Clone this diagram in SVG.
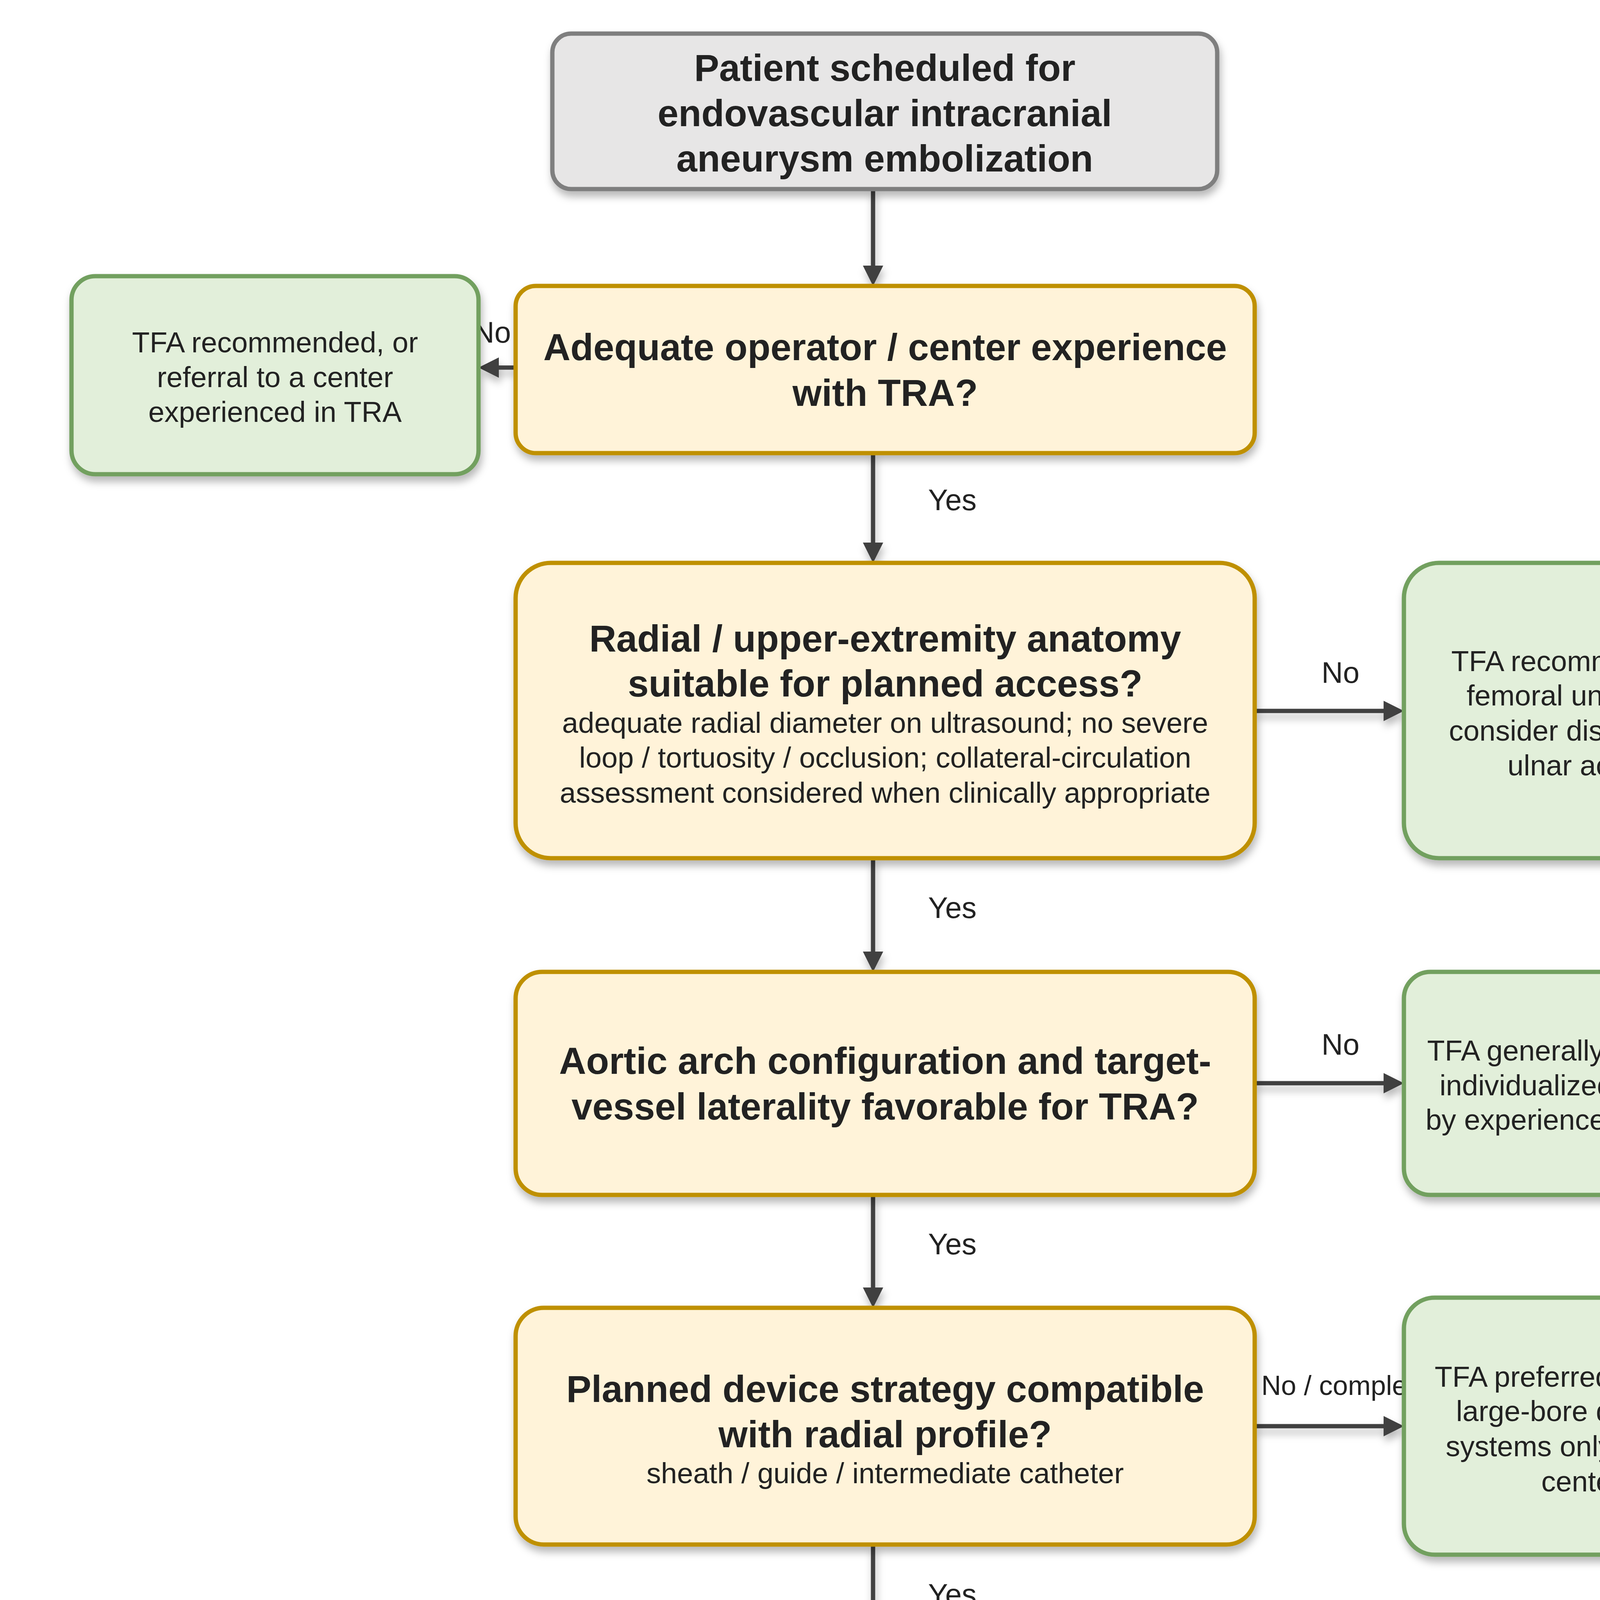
<svg xmlns="http://www.w3.org/2000/svg" width="4724" height="6306" viewBox="0 0 4724 6306">
<defs>
<filter id="sh" x="-10%" y="-10%" width="125%" height="135%">
<feDropShadow dx="4" dy="14" stdDeviation="10" flood-color="#000" flood-opacity="0.28"/>
</filter>
<marker id="ah" markerUnits="userSpaceOnUse" markerWidth="52" markerHeight="52" refX="7" refY="26" orient="auto">
<path d="M0,0 L52,26 L0,52 z" fill="#404040"/>
</marker>
<style>
.dec{fill:#fff3d9;stroke:#bf9000;stroke-width:11}
.tfa{fill:#e2efda;stroke:#72a05f;stroke-width:11}
.tra{fill:#dae3f3;stroke:#2e75b6;stroke-width:11}
.start{fill:#e7e6e6;stroke:#7f7f7f;stroke-width:11}
.b{font-family:"Liberation Sans",Arial,sans-serif;font-weight:bold;font-size:96px;fill:#222;text-anchor:middle}
.t{font-family:"Liberation Sans",Arial,sans-serif;font-size:74px;fill:#222;text-anchor:middle}
.lab{font-family:"Liberation Sans",Arial,sans-serif;font-size:76px;fill:#222}
.lab2{font-family:"Liberation Sans",Arial,sans-serif;font-size:70px;fill:#222}
.leg{font-family:"Liberation Sans",Arial,sans-serif;font-size:82px;fill:#222}
.legb{font-family:"Liberation Sans",Arial,sans-serif;font-size:94px;font-weight:bold;fill:#222}
.c{fill:none;stroke:#404040;stroke-width:11;marker-end:url(#ah)}
</style>
</defs>
<rect width="4724" height="6306" fill="#ffffff"/>

<g id="connectors" filter="url(#sh)">
<path class="c" d="M2235,484 L2235,687"/>
<path class="c" d="M2235,1160 L2235,1396"/>
<path class="c" d="M2235,2197 L2235,2443"/>
<path class="c" d="M2235,3059 L2235,3303"/>
<path class="c" d="M2235,3954 L2235,4200"/>
<path class="c" d="M2235,4964 L2235,5212"/>
<path class="c" d="M1320,941 L1270,941"/>
<path class="c" d="M3212,1820 L3549,1820"/>
<path class="c" d="M3212,2773 L3549,2773"/>
<path class="c" d="M3212,3651 L3549,3651"/>
<path class="c" d="M1320,4605 L1270,4605"/>
</g>

<g id="labels">
<text class="lab" x="1308" y="877" text-anchor="end">No</text>
<text class="lab" x="2376" y="1306">Yes</text>
<text class="lab" x="3383" y="1748">No</text>
<text class="lab" x="2376" y="2350">Yes</text>
<text class="lab" x="3383" y="2700">No</text>
<text class="lab" x="2376" y="3211">Yes</text>
<text class="lab2" x="3229" y="3571">No / complex</text>
<text class="lab" x="2376" y="4108">Yes</text>
<text class="lab" x="1308" y="4500" text-anchor="end">No</text>
<text class="lab" x="2376" y="5120">Yes</text>
</g>

<g id="start">
<rect class="start" x="1414" y="86" width="1702" height="398" rx="48" filter="url(#sh)"/>
<text class="b" x="2265" y="207">Patient scheduled for</text>
<text class="b" x="2265" y="323">endovascular intracranial</text>
<text class="b" x="2265" y="439">aneurysm embolization</text>
</g>

<g id="q1">
<rect class="dec" x="1320" y="732" width="1892" height="428" rx="52" filter="url(#sh)"/>
<text class="b" x="2266" y="922">Adequate operator / center experience</text>
<text class="b" x="2266" y="1039">with TRA?</text>
</g>

<g id="tfa1">
<rect class="tfa" x="183" y="707" width="1042" height="507" rx="61" filter="url(#sh)"/>
<text class="t" x="704" y="902">TFA recommended, or</text>
<text class="t" x="704" y="991">referral to a center</text>
<text class="t" x="704" y="1080">experienced in TRA</text>
</g>

<g id="q2">
<rect class="dec" x="1320" y="1441" width="1892" height="756" rx="90" filter="url(#sh)"/>
<text class="b" x="2266" y="1668">Radial / upper-extremity anatomy</text>
<text class="b" x="2266" y="1783">suitable for planned access?</text>
<text class="t" x="2266" y="1876">adequate radial diameter on ultrasound; no severe</text>
<text class="t" x="2266" y="1965">loop / tortuosity / occlusion; collateral-circulation</text>
<text class="t" x="2266" y="2055">assessment considered when clinically appropriate</text>
</g>

<g id="tfa2">
<rect class="tfa" x="3594" y="1441" width="946" height="756" rx="90" filter="url(#sh)"/>
<text class="t" x="4067" y="1718">TFA recommended; if</text>
<text class="t" x="4067" y="1806">femoral unsuitable,</text>
<text class="t" x="4067" y="1896">consider distal radial /</text>
<text class="t" x="4067" y="1985">ulnar access</text>
</g>

<g id="q3">
<rect class="dec" x="1320" y="2488" width="1892" height="571" rx="68" filter="url(#sh)"/>
<text class="b" x="2266" y="2749">Aortic arch configuration and target-</text>
<text class="b" x="2266" y="2866">vessel laterality favorable for TRA?</text>
</g>

<g id="tfa3">
<rect class="tfa" x="3594" y="2488" width="946" height="571" rx="68" filter="url(#sh)"/>
<text class="t" x="4067" y="2715">TFA generally preferable;</text>
<text class="t" x="4067" y="2804">individualized TRA only</text>
<text class="t" x="4067" y="2892">by experienced operators</text>
</g>

<g id="q4">
<rect class="dec" x="1320" y="3348" width="1892" height="606" rx="72" filter="url(#sh)"/>
<text class="b" x="2266" y="3589">Planned device strategy compatible</text>
<text class="b" x="2266" y="3705">with radial profile?</text>
<text class="t" x="2266" y="3797">sheath / guide / intermediate catheter</text>
</g>

<g id="tfa4">
<rect class="tfa" x="3594" y="3322" width="946" height="658" rx="79" filter="url(#sh)"/>
<text class="t" x="4067" y="3550">TFA preferred; TRA with</text>
<text class="t" x="4067" y="3638">large-bore dedicated</text>
<text class="t" x="4067" y="3728">systems only in expert</text>
<text class="t" x="4067" y="3818">centers</text>
</g>

<g id="q5">
<rect class="dec" x="1320" y="4245" width="1892" height="720" rx="86" filter="url(#sh)"/>
<text class="b" x="2266" y="4553">Clinical factors favoring TRA?</text>
<text class="t" x="2266" y="4646">high bleeding risk, antithrombotic therapy, groin</text>
<text class="t" x="2266" y="4736">disease, early ambulation, or patient preference</text>
</g>

<g id="tfa5">
<rect class="tfa" x="183" y="4245" width="1042" height="720" rx="86" filter="url(#sh)"/>
<text class="t" x="704" y="4500">Either access reasonable;</text>
<text class="t" x="704" y="4590">individualize by patient,</text>
<text class="t" x="704" y="4679">aneurysm, device and</text>
<text class="t" x="704" y="4770">operator factors</text>
</g>

<g id="end">
<rect class="tra" x="1414" y="5257" width="1702" height="516" rx="62" filter="url(#sh)"/>
<text class="b" x="2265" y="5438">TRA preferred: favorable anatomy,</text>
<text class="b" x="2265" y="5554">compatible device profile,</text>
<text class="b" x="2265" y="5670">experienced operator</text>
</g>

<g id="legend">
<text class="legb" x="409" y="6126">Legend:</text>
<rect class="dec" x="910" y="6009" width="190" height="169" rx="22" filter="url(#sh)"/>
<text class="leg" x="1202" y="6114">Decision / individualized consideration</text>
<rect class="tra" x="2753" y="6009" width="193" height="169" rx="22" filter="url(#sh)"/>
<text class="leg" x="3061" y="6114">TRA pathway</text>
<rect class="tfa" x="3686" y="6009" width="196" height="169" rx="22" filter="url(#sh)"/>
<text class="leg" x="4004" y="6114">TFA pathway</text>
</g>
</svg>
